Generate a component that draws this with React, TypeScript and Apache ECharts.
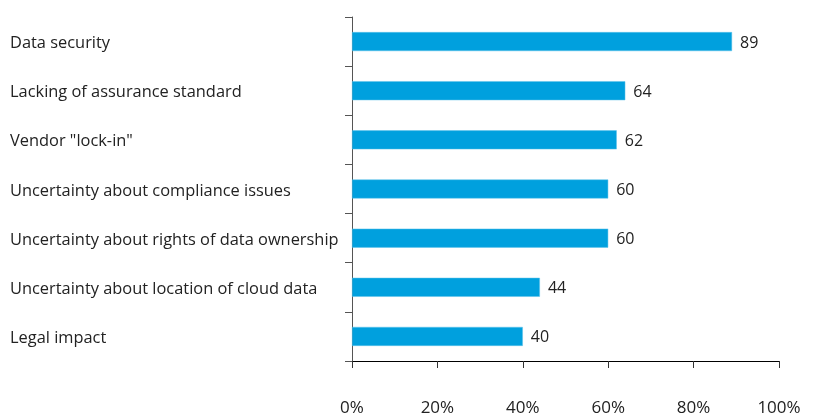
import React, { useEffect, useRef } from "react";
import * as echarts from "echarts";

const categories = [
  "Data security",
  "Lacking of assurance standard",
  'Vendor "lock-in"',
  "Uncertainty about compliance issues",
  "Uncertainty about rights of data ownership",
  "Uncertainty about location of cloud data",
  "Legal impact",
];
const values = [89, 64, 62, 60, 60, 44, 40];
const xTicks = [0, 20, 40, 60, 80, 100];

const FONT = "'Open Sans', 'Noto Sans', sans-serif";

export default function App() {
  const ref = useRef<HTMLDivElement>(null);
  useEffect(() => {
    if (!ref.current) return;
    const chart = echarts.init(ref.current, undefined, { renderer: "svg" });
    chart.setOption({
      animation: false,
      grid: { left: 352, right: 46, top: 17, bottom: 56, containLabel: false },
      xAxis: {
        type: "value",
        min: xTicks[0],
        max: xTicks[xTicks.length - 1],
        interval: 20,
        splitLine: { show: false },
        axisLine: { show: true, lineStyle: { color: "#000", width: 1 } },
        axisTick: { show: true, length: 7, lineStyle: { color: "#333" } },
        axisLabel: {
          margin: 37,
          formatter: (v: number) => v + "%",
          color: "#222",
          fontSize: 17,
          fontFamily: FONT,
        },
      },
      yAxis: {
        type: "category",
        inverse: true,
        data: categories,
        axisLine: { show: true, lineStyle: { color: "#555", width: 1 } },
        axisTick: { show: true, length: 7, inside: false, lineStyle: { color: "#555" } },
        axisLabel: {
          align: "left",
          margin: 342,
          color: "#222",
          fontSize: 16.4,
          fontFamily: FONT,
          padding: [6, 0, 0, 0],
        },
      },
      series: [
        {
          type: "bar",
          data: values,
          barWidth: 19,
          itemStyle: { color: "#00A0DE", borderColor: "#5CC3EA", borderWidth: 0.5 },
          label: {
            show: true,
            position: "right",
            distance: 8,
            color: "#222",
            fontSize: 16,
            fontFamily: FONT,
          },
        },
      ],
    });
    return () => chart.dispose();
  }, []);
  return (
    <div
      ref={ref}
      style={{ position: "fixed", left: 0, top: 0, width: 825, height: 417 }}
    />
  );
}
